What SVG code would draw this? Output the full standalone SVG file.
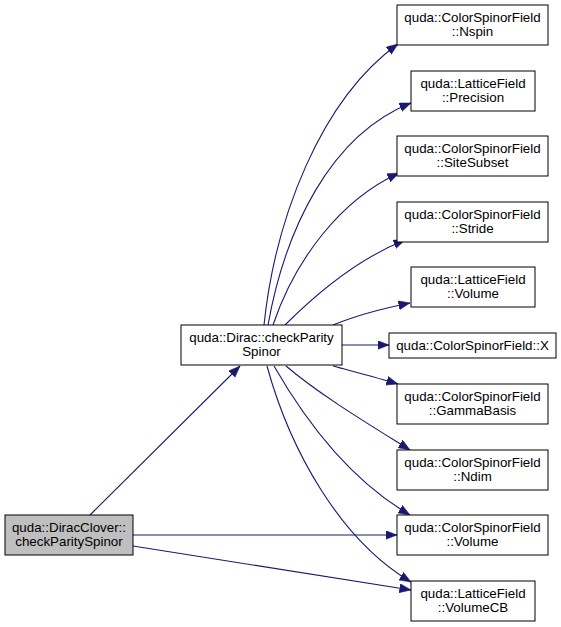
<svg xmlns="http://www.w3.org/2000/svg" width="561" height="627" viewBox="0 0 561 627">
<style>
.n rect{fill:#fff;stroke:#000;stroke-width:1}
.n.cur rect{fill:#bfbfbf}
.n text{font-family:"Liberation Sans",Arial,sans-serif;font-size:13.33px;fill:#000;text-anchor:middle}
.e path{fill:none;stroke:#191970;stroke-width:1.1;marker-end:url(#ah)}
</style>
<defs>
<marker id="ah" markerUnits="userSpaceOnUse" markerWidth="12" markerHeight="10" refX="11.5" refY="4.5" orient="auto">
<path d="M0,0 L11.5,4.5 L0,9 z" fill="#191970" stroke="#191970" stroke-width="0.5"/>
</marker>
</defs>
<rect width="561" height="627" fill="#fff"/>
<g id="edges" class="e">
<path d="M90,515 L240,366"/>
<path d="M133,535 L397,535"/>
<path d="M133,546 L411,590"/>
<path d="M342,345 L389,345"/>
<path d="M264,325 C275,220 320,100 398,44"/>
<path d="M268,325 C285,230 330,135 411,103"/>
<path d="M273,325 C295,260 340,200 399,173"/>
<path d="M285,325 C320,290 360,258 405,240"/>
<path d="M333,325 C355,316 385,308 410,303"/>
<path d="M333,366 C355,372 378,378 398,384"/>
<path d="M286,366 C320,395 370,425 410,450"/>
<path d="M274,366 C305,420 350,480 410,515"/>
<path d="M267,366 C290,450 340,540 411,582"/>
</g>
<g id="node_diracclover" class="n cur">
<rect x="5" y="515" width="128" height="40"/>
<text x="69" y="532">quda::DiracClover::</text>
<text x="69" y="546">checkParitySpinor</text>
</g>
<g id="node_checkparity" class="n">
<rect x="181" y="325" width="161" height="40"/>
<text x="261.5" y="342">quda::Dirac::checkParity</text>
<text x="261.5" y="356">Spinor</text>
</g>
<g id="node_nspin" class="n">
<rect x="397" y="5" width="151" height="40"/>
<text x="472.5" y="22">quda::ColorSpinorField</text>
<text x="472.5" y="36">::Nspin</text>
</g>
<g id="node_precision" class="n">
<rect x="411" y="71" width="124" height="40"/>
<text x="473" y="88">quda::LatticeField</text>
<text x="473" y="102">::Precision</text>
</g>
<g id="node_sitesubset" class="n">
<rect x="397" y="136" width="151" height="40"/>
<text x="472.5" y="153">quda::ColorSpinorField</text>
<text x="472.5" y="167">::SiteSubset</text>
</g>
<g id="node_stride" class="n">
<rect x="397" y="202" width="151" height="40"/>
<text x="472.5" y="219">quda::ColorSpinorField</text>
<text x="472.5" y="233">::Stride</text>
</g>
<g id="node_lfvolume" class="n">
<rect x="411" y="267" width="124" height="40"/>
<text x="473" y="284">quda::LatticeField</text>
<text x="473" y="298">::Volume</text>
</g>
<g id="node_x" class="n">
<rect x="389" y="333" width="167" height="25"/>
<text x="472.5" y="350">quda::ColorSpinorField::X</text>
</g>
<g id="node_gammabasis" class="n">
<rect x="397" y="384" width="151" height="40"/>
<text x="472.5" y="401">quda::ColorSpinorField</text>
<text x="472.5" y="415">::GammaBasis</text>
</g>
<g id="node_ndim" class="n">
<rect x="397" y="450" width="151" height="40"/>
<text x="472.5" y="467">quda::ColorSpinorField</text>
<text x="472.5" y="481">::Ndim</text>
</g>
<g id="node_csfvolume" class="n">
<rect x="397" y="515" width="151" height="40"/>
<text x="472.5" y="532">quda::ColorSpinorField</text>
<text x="472.5" y="546">::Volume</text>
</g>
<g id="node_volumecb" class="n">
<rect x="411" y="581" width="124" height="40"/>
<text x="473" y="598">quda::LatticeField</text>
<text x="473" y="612">::VolumeCB</text>
</g>
</svg>
